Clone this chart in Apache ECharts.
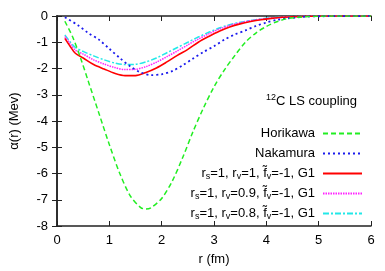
<!DOCTYPE html>
<html><head><meta charset="utf-8">
<script src="https://cdn.jsdelivr.net/npm/echarts@6/dist/echarts.min.js"></script>
<style>html,body{margin:0;padding:0;background:#fff}#c{width:385px;height:271px}</style>
</head><body><div id="c"></div>
<script>
const xTicks = [0,1,2,3,4,5,6];
const yTicks = [0,-1,-2,-3,-4,-5,-6,-7,-8];
const names = ['Horikawa','Nakamura','r_s=1, r_v=1, f_v=-1, G1','r_s=1, r_v=0.9, f_v=-1, G1','r_s=1, r_v=0.8, f_v=-1, G1'];

const horikawaR = [0.15,0.3,0.45,0.6,0.8,1.0,1.2,1.4,1.6,1.7,1.8,2.0,2.2,2.4,2.6,2.8,3.0,3.2,3.4,3.6,3.8,4.0,4.2,4.4,4.6,4.8,5.0,5.2,6.0];
const horikawaV = [-0.2,-0.8,-1.6,-2.5,-3.7,-4.9,-6.0,-6.85,-7.3,-7.35,-7.3,-6.95,-6.3,-5.4,-4.4,-3.5,-2.7,-2.05,-1.5,-1.0,-0.65,-0.4,-0.22,-0.1,-0.05,-0.02,-0.01,0,0];

const nakamuraR = [0.15,0.4,0.6,0.8,1.0,1.2,1.4,1.6,1.8,2.0,2.2,2.4,2.6,2.8,3.0,3.2,3.4,3.6,3.8,4.0,4.2,4.4,4.6,4.8,5.0,6.0];
const nakamuraV = [-0.05,-0.35,-0.65,-0.9,-1.25,-1.6,-1.92,-2.15,-2.25,-2.22,-2.1,-1.88,-1.62,-1.37,-1.15,-0.9,-0.7,-0.55,-0.38,-0.25,-0.15,-0.09,-0.05,-0.02,-0.01,0];

const gR = [0.15,0.25,0.35,0.5,0.7,0.9,1.1,1.3,1.5,1.7,1.9,2.1,2.3,2.5,2.7,2.9,3.1,3.3,3.5,3.7,3.9,4.1,4.3,4.5,4.8,5.0,6.0];
const rv10V = [-0.85,-1.15,-1.42,-1.6,-1.85,-2.02,-2.18,-2.27,-2.27,-2.15,-1.98,-1.75,-1.5,-1.27,-1.0,-0.78,-0.58,-0.42,-0.3,-0.21,-0.14,-0.09,-0.05,-0.03,-0.01,0,0];
const rv09V = [-0.78,-1.05,-1.3,-1.45,-1.67,-1.83,-1.96,-2.04,-2.03,-1.93,-1.76,-1.55,-1.33,-1.1,-0.88,-0.68,-0.5,-0.36,-0.26,-0.18,-0.12,-0.08,-0.05,-0.03,-0.01,0,0];
const rv08V = [-0.72,-0.98,-1.2,-1.35,-1.52,-1.67,-1.79,-1.85,-1.84,-1.75,-1.6,-1.4,-1.2,-1.0,-0.8,-0.62,-0.46,-0.33,-0.24,-0.17,-0.11,-0.07,-0.04,-0.02,-0.01,0,0];

function pairs(xs, ys){ return xs.map((x,i)=>[x, ys[i]]); }

const FONT = 'Liberation Sans';
const chart = echarts.init(document.getElementById('c'), null, {renderer:'canvas'});

const styles = [
  {color:'#22ee22', type:[5,3], width:1.5},
  {color:'#1a1aee', type:[2,3], width:1.8},
  {color:'#ff0000', type:'solid', width:1.6},
  {color:'#ff22ff', type:[1.5,1], width:1.5},
  {color:'#22e8e8', type:[6,2,2,2], width:1.5}
];
const datas = [pairs(horikawaR,horikawaV), pairs(nakamuraR,nakamuraV), pairs(gR,rv10V), pairs(gR,rv09V), pairs(gR,rv08V)];

function fmtName(n){
  if (n.indexOf('r_s')!==0) return '{t|'+n+'}';
  const m = n.match(/r_v=([0-9.]+)/)[1];
  return '{t|r}{s|s}{t|=1, r}{s|v}{t|='+m+', f\u0303}{s|v}{t|=-1, G1}';
}

const legends = names.map((n,i)=>({
  data:[n], orient:'vertical', right:22, top:127+i*20,
  itemWidth:39, itemHeight:10, itemGap:0, padding:0,
  itemStyle:{opacity:0},
  formatter: fmtName,
  textStyle:{ color:'#000', fontFamily:FONT, fontSize:13, padding:[0,3,0,0],
    rich:{ t:{fontFamily:FONT,fontSize:13,color:'#000'}, s:{fontFamily:FONT,fontSize:9,color:'#000',padding:[7,0,0,0]} } },
  align:'right', selectedMode:false
}));

chart.setOption({
  animation:false,
  backgroundColor:'#fff',
  textStyle:{fontFamily:FONT},
  grid:{left:53, right:14, top:16, bottom:42},
  legend: legends,
  title:{
    text:'{sup|12}{t|C LS coupling}', right:23, top:88,
    textStyle:{fontWeight:'normal', rich:{sup:{fontFamily:FONT,fontSize:9,fontWeight:'normal',color:'#000',padding:[0,0,8,0]}, t:{fontFamily:FONT,fontSize:13,fontWeight:'normal',color:'#000'}}}
  },
  xAxis:[{
    type:'value', min:0, max:6, interval:1,
    name:'r (fm)', nameLocation:'middle', nameGap:27,
    nameTextStyle:{fontFamily:FONT,fontSize:13,color:'#000'},
    axisLine:{onZero:false, lineStyle:{color:'#222',width:1.5}},
    axisTick:{inside:true, length:5, lineStyle:{color:'#222',width:1}},
    axisLabel:{fontFamily:FONT,fontSize:13,color:'#000',margin:8},
    splitLine:{show:false}
  },{
    type:'value', min:0, max:6, interval:1, position:'top',
    axisLine:{lineStyle:{color:'#222',width:1.5}},
    axisTick:{inside:true, length:5, lineStyle:{color:'#222'}},
    axisLabel:{show:false}, splitLine:{show:false}
  }],
  yAxis:[{
    type:'value', min:-8, max:0, interval:1,
    name:'\u03b1(r) (Mev)', nameLocation:'middle', nameGap:36,
    nameTextStyle:{fontFamily:FONT,fontSize:13,color:'#000'},
    axisLine:{show:true, onZero:false, lineStyle:{color:'#222',width:1.5}},
    axisTick:{show:true, inside:true, length:5, lineStyle:{color:'#222'}},
    axisLabel:{fontFamily:FONT,fontSize:13,color:'#000',margin:9},
    splitLine:{show:false}
  },{
    type:'value', min:-8, max:0, interval:1, position:'right',
    axisLine:{show:true, lineStyle:{color:'#222',width:1.5}},
    axisTick:{show:true, inside:true, length:5, lineStyle:{color:'#222'}},
    axisLabel:{show:false}, splitLine:{show:false}
  }],
  series: names.map((n,i)=>({
    name:n, type:'line', data:datas[i], smooth:0.3, symbol:'none', showSymbol:false,
    xAxisIndex:0, yAxisIndex:0, z: 10-i,
    lineStyle:{color:styles[i].color, type:styles[i].type, width:styles[i].width},
    itemStyle:{color:styles[i].color}
  }))
});
</script></body></html>
